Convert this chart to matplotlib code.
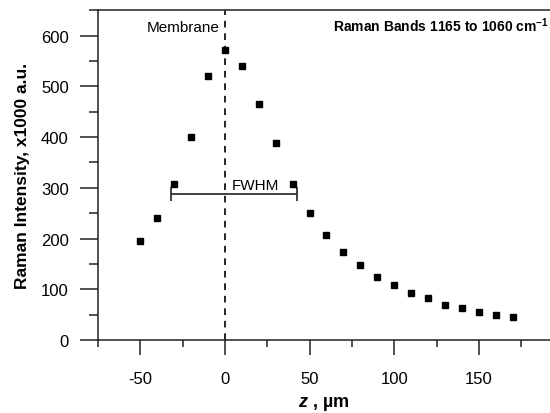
import numpy as np
import matplotlib
matplotlib.use("Agg")
import matplotlib.pyplot as plt
from matplotlib.ticker import MultipleLocator

plt.rcParams['font.family'] = ['Liberation Sans', 'DejaVu Sans']
plt.rcParams['mathtext.fontset'] = 'custom'
plt.rcParams['mathtext.bf'] = 'Liberation Sans:bold'
plt.rcParams['mathtext.bfit'] = 'Liberation Sans:bold:italic'

# depth positions (um) and intensity (x1000 a.u.)
z = [-50, -40, -30, -20, -10, 0, 10, 20, 30, 40, 50, 60, 70, 80, 90,
     100, 110, 120, 130, 140, 150, 160, 170]
intensity = [196, 241, 307, 400, 520, 571, 541, 466, 389, 307, 250, 207,
             174, 148, 124, 108, 92, 83, 70, 63, 56, 49, 45]

# FWHM bar
fwhm_left = -32
fwhm_right = 42.5
fwhm_level = 287

fig = plt.figure(figsize=(5.5, 4.14), dpi=100)
ax = fig.add_axes([0.178, 0.176, 0.822, 0.797])

ax.plot(z, intensity, 's', color='black', ms=5, zorder=3)

# membrane line
ax.axvline(0, color='black', lw=1.2, ls=(0, (4, 3.5)))
ax.text(-3, 608, 'Membrane', ha='right', va='baseline', fontsize=11)

# FWHM bar with end caps
ax.errorbar([(fwhm_left + fwhm_right) / 2], [fwhm_level],
            xerr=[[(fwhm_right - fwhm_left) / 2]], fmt='none',
            ecolor='#222222', elinewidth=1.2, capsize=5, capthick=1.2)
ax.text(4.3, 297, 'FWHM', ha='left', va='baseline', fontsize=11)

ax.text(0.997, 0.936, r'Raman Bands 1165 to 1060 cm$^{\mathbf{-1}}$',
        transform=ax.transAxes, ha='right', va='baseline',
        fontsize=10, fontweight='bold')

ax.set_xlim(-75, 192)
ax.set_ylim(0, 650)
ax.xaxis.set_major_locator(MultipleLocator(50))
ax.xaxis.set_minor_locator(MultipleLocator(25))
ax.yaxis.set_major_locator(MultipleLocator(100))
ax.yaxis.set_minor_locator(MultipleLocator(50))

for s in ['right']:
    ax.spines[s].set_visible(False)
for s in ['left', 'bottom', 'top']:
    ax.spines[s].set_linewidth(1.1)
    ax.spines[s].set_color('#222222')

ax.tick_params(axis='y', which='major', length=13, width=1.1, pad=8,
               labelsize=12, color='#222222')
ax.tick_params(axis='y', which='minor', length=6.5, width=1.1,
               color='#222222')
ax.tick_params(axis='x', which='major', length=11, width=1.1, pad=11,
               labelsize=12, color='#222222')
ax.tick_params(axis='x', which='minor', length=5, width=1.1,
               color='#222222')

ax.set_xticks([-50, 0, 50, 100, 150])
ax.set_xticklabels(['-50', '0', '50', '100', '150'])

ax.set_ylabel('Raman Intensity, x1000 a.u.', fontsize=12.5,
              fontweight='bold', labelpad=8)
ax.set_xlabel(r'$\mathbfit{z}$ , µm', fontsize=13, fontweight='bold',
              labelpad=6)

fig.savefig('out.png', dpi=100)
